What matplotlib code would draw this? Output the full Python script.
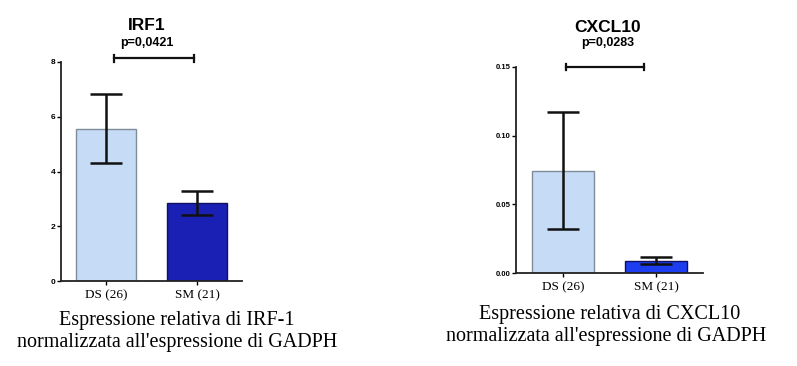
import matplotlib
matplotlib.use("Agg")
import matplotlib.pyplot as plt

W, H = 797, 366
DPI = 100

# ---- data ----
groups = ["DS (26)", "SM (21)"]
irf1_mean = [5.56, 2.86]
irf1_low = [4.30, 2.41]
irf1_high = [6.82, 3.29]
cxcl10_mean = [0.0745, 0.0092]
cxcl10_low = [0.0322, 0.0068]
cxcl10_high = [0.117, 0.0120]
irf1_ticks = [0, 2, 4, 6, 8]
cxcl10_ticks = [0.00, 0.05, 0.10, 0.15]

light = "#c6dbf5"
dark_left = "#1a20b4"
dark_right = "#1d3ef0"

fig = plt.figure(figsize=(W / DPI, H / DPI), dpi=DPI)

def px_axes(x0, x1, ytop, ybot):
    return fig.add_axes([x0 / W, (H - ybot) / H, (x1 - x0) / W, (ybot - ytop) / H])

def draw(ax, mean, low, high, ticks, tick_fmt, colors, ylim, xlim, tick_fs):
    xs = list(range(len(mean)))
    ax.bar(xs, mean, width=0.66, color=colors, edgecolor=["#7f8c99", "#101060"],
           linewidth=1.0, zorder=2)
    yerr = [[m - l for m, l in zip(mean, low)], [h - m for m, h in zip(mean, high)]]
    ax.errorbar(xs, mean, yerr=yerr, fmt="none", ecolor="#111111", elinewidth=1.8,
                capsize=11.5, capthick=1.8, zorder=3)
    ax.set_ylim(*ylim)
    ax.set_xlim(*xlim)
    ax.set_yticks(ticks)
    ax.set_yticklabels([tick_fmt(t) for t in ticks], fontsize=tick_fs,
                       fontweight="bold", family="Liberation Sans")
    ax.set_xticks(xs)
    ax.set_xticklabels(groups, fontsize=9.5, family="Liberation Serif")
    for s in ["top", "right"]:
        ax.spines[s].set_visible(False)
    for s in ["left", "bottom"]:
        ax.spines[s].set_linewidth(1.3)
        ax.spines[s].set_color("#222222")
    ax.tick_params(axis="y", length=3, width=1.0, pad=1)
    ax.tick_params(axis="x", length=3, width=1.0, pad=3)

def bracket(ax, x0, x1, y, h):
    ax.plot([x0, x1], [y, y], color="#111111", lw=1.6, clip_on=False)
    for x in (x0, x1):
        ax.plot([x, x], [y - h, y + h], color="#111111", lw=1.6, clip_on=False)

ax1 = px_axes(61, 242, 62, 281)
draw(ax1, irf1_mean, irf1_low, irf1_high, irf1_ticks, lambda t: f"{t:d}",
     [light, dark_left], (0, 8), (-0.495, 1.495), 6)
bracket(ax1, 0.088, 0.967, 8.13, 0.12)

ax2 = px_axes(516, 703, 66.7, 273.3)
draw(ax2, cxcl10_mean, cxcl10_low, cxcl10_high, cxcl10_ticks, lambda t: f"{t:.2f}",
     [light, dark_right], (0, 0.15), (-0.505, 1.505), 5.5)
bracket(ax2, 0.03, 0.87, 0.15, 0.0022)

def ftext(x, y, s, **kw):
    fig.text(x / W, 1 - y / H, s, ha="center", va="center", **kw)

ftext(147, 25, "IRF1", fontsize=12.5, fontweight="bold", family="Liberation Sans")
ftext(147, 43, "p=0,0421", fontsize=9, fontweight="bold", family="Liberation Sans")
ftext(608, 27, "CXCL10", fontsize=12.5, fontweight="bold", family="Liberation Sans")
ftext(608, 43, "p=0,0283", fontsize=9, fontweight="bold", family="Liberation Sans")

ftext(177, 320, "Espressione relativa di IRF-1", fontsize=14.5, family="Liberation Serif")
ftext(177, 342, "normalizzata all'espressione di GADPH", fontsize=14.5, family="Liberation Serif")
ftext(610, 315, "Espressione relativa di CXCL10", fontsize=14.5, family="Liberation Serif")
ftext(606, 337, "normalizzata all'espressione di GADPH", fontsize=14.5, family="Liberation Serif")

fig.savefig("out.png", dpi=DPI)
